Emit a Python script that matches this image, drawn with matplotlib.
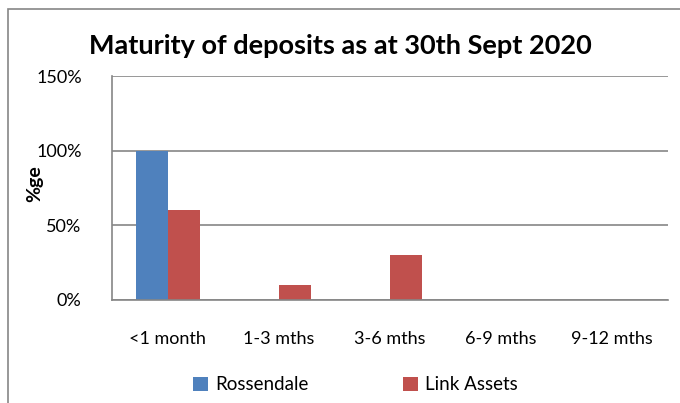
import matplotlib.pyplot as plt
from matplotlib.patches import Rectangle
import numpy as np

categories = ['<1 month', '1-3 mths', '3-6 mths', '6-9 mths', '9-12 mths']
rossendale = [100, 0, 0, 0, 0]
link_assets = [60, 10, 30, 0, 0]

plt.rcParams['font.family'] = ['Lato', 'DejaVu Sans']

fig = plt.figure(figsize=(6.8, 4.03), dpi=100)
ax = fig.add_axes([0.165, 0.2556, 0.817, 0.5558])

x = np.arange(len(categories))
w = 0.29
ax.bar(x - w / 2, rossendale, w, color='#4F81BD', label='Rossendale')
ax.bar(x + w / 2, link_assets, w, color='#C0504D', label='Link Assets')

ax.set_xlim(-0.5, len(categories) - 0.5)
ax.set_ylim(0, 150)
ax.set_yticks([0, 50, 100, 150])
ax.set_yticklabels(['0%', '50%', '100%', '150%'])
ax.set_xticks(x)
ax.set_xticklabels(categories)
ax.tick_params(axis='both', length=0, labelsize=13, colors='black')
ax.tick_params(axis='y', pad=22)
ax.tick_params(axis='x', pad=22)
ax.yaxis.grid(True, color='#868686', linewidth=1.2)
ax.set_axisbelow(True)
for s in ['top', 'right']:
    ax.spines[s].set_visible(False)
for s in ['left', 'bottom']:
    ax.spines[s].set_color('#868686')
    ax.spines[s].set_linewidth(1.2)

ax.set_ylabel('%ge', fontsize=14, fontweight='bold')
ax.yaxis.set_label_coords(-0.125, 0.52)
fig.text(0.5, 0.885, 'Maturity of deposits as at 30th Sept 2020',
         ha='center', va='center', fontsize=19.5, fontweight='bold')

fig.legend(loc='center', bbox_to_anchor=(0.523, 0.045), ncol=2, frameon=False,
           fontsize=13.5, handlelength=0.8, handleheight=0.8, columnspacing=5,
           handletextpad=0.4)

fig.patches.append(Rectangle((8 / 680, -0.1), 1.0, (403 - 9) / 403 + 0.1,
                             transform=fig.transFigure, fill=False,
                             edgecolor='#868686', linewidth=1.2))

fig.savefig('out.png', dpi=100)
